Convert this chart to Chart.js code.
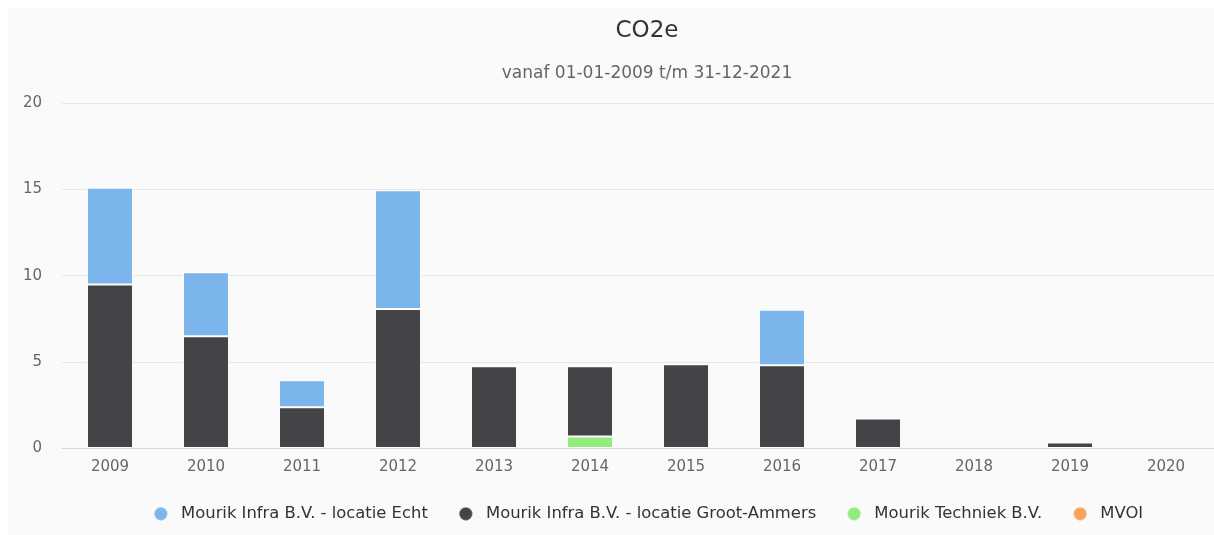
<!DOCTYPE html>
<html>
<head>
<meta charset="utf-8">
<script src="https://cdn.jsdelivr.net/npm/chart.js@4"></script>
<style>
html,body{margin:0;padding:0;background:#ffffff;}
#wrap{width:1214px;height:535px;position:relative;}
</style>
</head>
<body>
<div id="wrap"><canvas id="c" width="1214" height="535"></canvas></div>
<script>
const categories = ['2009','2010','2011','2012','2013','2014','2015','2016','2017','2018','2019','2020'];
const echt =          [5.6, 3.7, 1.55, 6.87, 0, 0, 0, 3.2, 0, 0, 0, 0];
const grootAmmers =   [9.5, 6.5, 2.4, 8.08, 4.77, 4.07, 4.88, 4.83, 1.74, 0, 0.35, 0];
const techniek =      [0, 0, 0, 0, 0, 0.7, 0, 0, 0, 0, 0, 0];
const mvoi =          [0, 0, 0, 0, 0, 0, 0, 0, 0, 0, 0, 0];
const yTicks = [0, 5, 10, 15, 20];

const FONT = "'DejaVu Sans', sans-serif";
const colors = { mvoi: '#f7a35c', techniek: '#90ed7d', groot: '#434348', echt: '#7cb5ec' };

function dotImage(color) {
  const c = document.createElement('canvas');
  c.width = 30; c.height = 14;
  const g = c.getContext('2d');
  g.fillStyle = color;
  g.beginPath();
  g.arc(11, 7, 6.5, 0, Math.PI * 2);
  g.fill();
  return c;
}

const bgPlugin = {
  id: 'bg',
  beforeDraw(chart) {
    const ctx = chart.ctx;
    ctx.save();
    ctx.fillStyle = '#fafafa';
    ctx.fillRect(8, 8, chart.width - 8, chart.height - 8);
    ctx.restore();
  }
};

// the original chart was wider than the visible crop: centre title, subtitle and legend as in it
const shiftPlugin = {
  id: 'shift',
  afterLayout(chart) {
    chart.boxes.forEach(b => {
      if (b === chart.legend) {
        b.right += 78;
      } else if (b.options && b.options.text !== undefined && !b.axis) {
        b.right += 72;
      }
    });
  }
};

function ds(label, data, color) {
  return {
    label, data,
    backgroundColor: color,
    borderColor: '#ffffff',
    borderWidth: 1,
    borderSkipped: false,
    barPercentage: 0.48,
    categoryPercentage: 1.0,
    dot: dotImage(color)
  };
}

new Chart(document.getElementById('c'), {
  type: 'bar',
  data: {
    labels: categories,
    datasets: [
      ds('MVOI', mvoi, colors.mvoi),
      ds('Mourik Techniek B.V.', techniek, colors.techniek),
      ds('Mourik Infra B.V. - locatie Groot-Ammers', grootAmmers, colors.groot),
      ds('Mourik Infra B.V. - locatie Echt', echt, colors.echt)
    ]
  },
  plugins: [bgPlugin, shiftPlugin],
  options: {
    responsive: false,
    animation: false,
    devicePixelRatio: 1,
    layout: { padding: { left: 8, right: 0, top: 8, bottom: 3 } },
    plugins: {
      title: {
        display: true,
        text: 'CO2e',
        color: '#333333',
        font: { family: FONT, size: 23, weight: 'normal' },
        padding: { top: 9, bottom: 0 }
      },
      subtitle: {
        display: true,
        text: 'vanaf 01-01-2009 t/m 31-12-2021',
        color: '#666666',
        font: { family: FONT, size: 17, weight: 'normal' },
        padding: { top: 19, bottom: 19 }
      },
      legend: {
        position: 'bottom',
        reverse: true,
        labels: {
          usePointStyle: true,
          boxWidth: 16,
          boxHeight: 16,
          padding: 34,
          color: '#333333',
          font: { family: FONT, size: 16.4 },
          generateLabels(chart) {
            const items = Chart.defaults.plugins.legend.labels.generateLabels(chart);
            items.forEach(it => { it.pointStyle = chart.data.datasets[it.datasetIndex].dot; });
            return items;
          }
        }
      },
      tooltip: { enabled: false }
    },
    scales: {
      x: {
        stacked: true,
        grid: { display: false, drawTicks: false },
        border: { display: true, color: '#ccd6eb', width: 1 },
        ticks: { color: '#666666', font: { family: FONT, size: 15 }, padding: 10, maxRotation: 0 },
        afterFit(scale) { scale.height = 23; }
      },
      y: {
        stacked: true,
        min: 0, max: 20,
        afterBuildTicks(scale) { scale.ticks = yTicks.map(v => ({ value: v })); },
        grid: { color: '#e6e6e6', drawTicks: false },
        border: { display: false },
        ticks: { color: '#666666', font: { family: FONT, size: 15 }, padding: 20 },
        afterFit(scale) { scale.width = 54; }
      }
    }
  }
});
</script>
</body>
</html>
